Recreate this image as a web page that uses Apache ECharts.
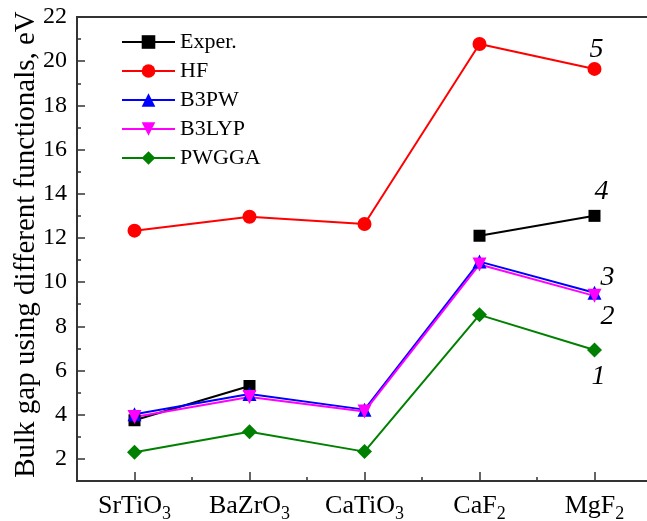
<!DOCTYPE html>
<html><head><meta charset="utf-8">
<script src="https://cdn.jsdelivr.net/npm/echarts@6/dist/echarts.min.js"></script>
<style>html,body{margin:0;padding:0;background:#fff}#c{width:647px;height:521px}</style>
</head><body><div id="c"></div>
<script>
// ---- data ----
const catBase = ['SrTiO', 'BaZrO', 'CaTiO', 'CaF', 'MgF'];
const catSub = ['3', '3', '3', '2', '2'];
const seriesNames = ['Exper.', 'HF', 'B3PW', 'B3LYP', 'PWGGA'];
const exper = [3.75, 5.3, null, 12.1, 13.0];
const hf = [12.33, 12.96, 12.63, 20.78, 19.65];
const b3pw = [4.02, 4.94, 4.23, 10.93, 9.52];
const b3lyp = [3.9, 4.8, 4.15, 10.8, 9.38];
const pwgga = [2.3, 3.23, 2.33, 8.52, 6.93];
const curveTags = ['4', '5', '3', '2', '1'];
const yTickValues = [2, 4, 6, 8, 10, 12, 14, 16, 18, 20, 22];
const yMinorValues = [3, 5, 7, 9, 11, 13, 15, 17, 19, 21];
const xTickValues = [1, 2, 3, 4, 5];
const xMinorValues = [1.5, 2.5, 3.5, 4.5];

// ---- styles ----
const FONT = "'Liberation Serif', 'Times New Roman', serif";
const AXIS = '#333333';
const styles = [
  { color: '#000000', symbol: 'rect', size: 12, rotate: 0, tagOffset: [7, -24] },
  { color: '#ff0000', symbol: 'circle', size: 14, rotate: 0, tagOffset: [2, -19] },
  { color: '#0000ff', symbol: 'triangle', size: 14, rotate: 0, tagOffset: [13, -15] },
  { color: '#ff00ff', symbol: 'triangle', size: 14, rotate: 180, tagOffset: [13, 21] },
  { color: '#008000', symbol: 'diamond', size: 15, rotate: 0, tagOffset: [4, 27] }
];
const allData = [exper, hf, b3pw, b3lyp, pwgga];

const series = allData.map((arr, si) => {
  const st = styles[si];
  return {
    name: seriesNames[si],
    type: 'line',
    xAxisIndex: 0, yAxisIndex: 0,
    symbol: st.symbol,
    symbolSize: st.size,
    symbolRotate: st.rotate,
    connectNulls: false,
    lineStyle: { color: st.color, width: 2 },
    itemStyle: { color: st.color },
    data: arr.map((v, i) => {
      const item = { value: [xTickValues[i], v == null ? '-' : v] };
      if (i === arr.length - 1) {
        item.label = {
          show: true, position: 'inside', offset: st.tagOffset,
          formatter: curveTags[si], fontStyle: 'italic', fontSize: 28,
          fontFamily: FONT, color: '#000'
        };
      }
      return item;
    }),
    animation: false
  };
});

const chart = echarts.init(document.getElementById('c'), null, { renderer: 'canvas' });
chart.setOption({
  backgroundColor: '#fff',
  animation: false,
  grid: {
    left: 77, top: 17, right: -5, bottom: 40,
    show: true, borderColor: AXIS, borderWidth: 2,
    containLabel: false, outerBoundsMode: 'none'
  },
  legend: {
    orient: 'vertical', left: 121, top: 31, padding: 0,
    itemWidth: 53, itemHeight: 17, itemGap: 7,
    textStyle: { fontFamily: FONT, fontSize: 22, color: '#000', lineHeight: 22 },
    data: seriesNames
  },
  xAxis: [
    {
      type: 'value', min: 0.5, max: 5.5, position: 'bottom',
      axisLine: { show: true, lineStyle: { color: AXIS, width: 2 } },
      axisTick: { show: true, inside: true, length: 9, customValues: xTickValues, lineStyle: { color: AXIS, width: 1.5 } },
      axisLabel: {
        show: true, customValues: xTickValues, margin: 8, color: '#000',
        formatter: v => {
          const i = Math.round(v) - 1;
          return '{n|' + catBase[i] + '}{s|' + catSub[i] + '}';
        },
        rich: {
          n: { fontFamily: FONT, fontSize: 26, color: '#000' },
          s: { fontFamily: FONT, fontSize: 18, color: '#000', padding: [16, 0, 0, 0] }
        }
      },
      splitLine: { show: false }
    },
    {
      type: 'value', min: 0.5, max: 5.5, position: 'bottom',
      axisLine: { show: false },
      axisTick: { show: true, inside: true, length: 4, customValues: xMinorValues, lineStyle: { color: AXIS, width: 1.5 } },
      axisLabel: { show: false },
      splitLine: { show: false }
    }
  ],
  yAxis: [
    {
      type: 'value', min: 1, max: 22, position: 'left',
      axisLine: { show: true, lineStyle: { color: AXIS, width: 2 } },
      axisTick: { show: true, inside: true, length: 8, customValues: yTickValues, lineStyle: { color: AXIS, width: 1.5 } },
      axisLabel: { show: true, customValues: yTickValues, margin: 10, fontFamily: FONT, fontSize: 24, color: '#000' },
      splitLine: { show: false },
      name: 'Bulk gap using different functionals, eV',
      nameLocation: 'middle', nameGap: 36, nameMoveOverlap: false,
      nameTextStyle: { fontFamily: FONT, fontSize: 29, color: '#000', padding: [0, 0, 0, 9] }
    },
    {
      type: 'value', min: 1, max: 22, position: 'left',
      axisLine: { show: false },
      axisTick: { show: true, inside: true, length: 4, customValues: yMinorValues, lineStyle: { color: AXIS, width: 1.5 } },
      axisLabel: { show: false },
      splitLine: { show: false }
    }
  ],
  series: series
});
</script>
</body></html>
